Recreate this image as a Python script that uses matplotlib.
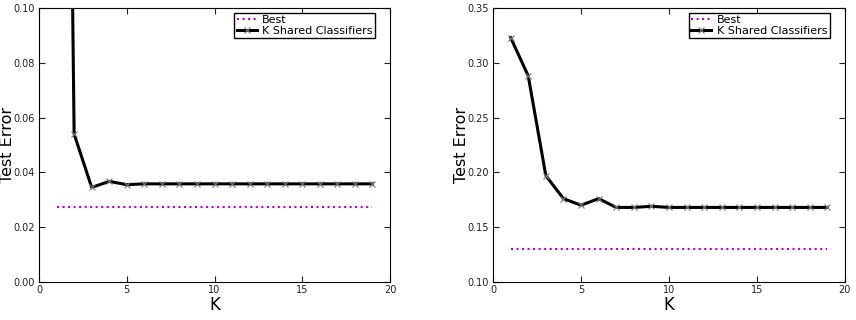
import numpy as np
import matplotlib.pyplot as plt

K = list(range(1, 20))

# left panel
left_shared = [0.60, 0.054, 0.0345, 0.0367, 0.0355] + [0.0358] * 14
left_best = [0.0275] * 19

# right panel
right_shared = [0.323, 0.288, 0.197, 0.176, 0.170, 0.176, 0.168, 0.168, 0.169] + [0.168] * 10
right_best = [0.130] * 19

panels = [
  (left_shared, left_best, (0.0, 0.10), [0.00, 0.02, 0.04, 0.06, 0.08, 0.10]),
  (right_shared, right_best, (0.10, 0.35), [0.10, 0.15, 0.20, 0.25, 0.30, 0.35]),
]
positions = [(0.0456, 0.119, 0.410, 0.856), (0.576, 0.119, 0.411, 0.856)]

fig = plt.figure(figsize=(8.56, 3.2), dpi=100)

for (shared, best, ylim, yticks), pos in zip(panels, positions):
  ax = fig.add_axes(pos)
  ax.plot(K, best, linestyle=':', color='m', linewidth=1.5, label='Best')
  ax.plot(K, shared, color='black', linewidth=2.2, marker='x', markersize=4,
          markeredgecolor='#777777', markeredgewidth=0.8, label='K Shared Classifiers')
  ax.set_xlim(0, 20)
  ax.set_ylim(*ylim)
  ax.set_xticks([0, 5, 10, 15, 20])
  ax.set_yticks(yticks)
  ax.set_yticklabels(['%.2f' % t for t in yticks])
  ax.tick_params(direction='in', labelsize=7, length=4, top=True, right=True,
                 colors='#222222', pad=3)
  ax.tick_params(axis='x', pad=2)
  ax.set_xlabel('K', fontsize=12)
  ax.set_ylabel('Test Error', fontsize=11.5)
  # label anchors: top of xlabel, right edge of ylabel
  ax.xaxis.set_label_coords(0.5, -0.05)
  ax.yaxis.set_label_coords(-0.068, 0.5)
  leg = ax.legend(loc='upper right', bbox_to_anchor=(0.957, 0.982), fontsize=8,
                  fancybox=False, framealpha=1, borderpad=0.2, labelspacing=0.1,
                  handlelength=1.8, handletextpad=0.5, borderaxespad=0)
  leg.get_frame().set_edgecolor('black')

plt.savefig('out.png', dpi=100)
